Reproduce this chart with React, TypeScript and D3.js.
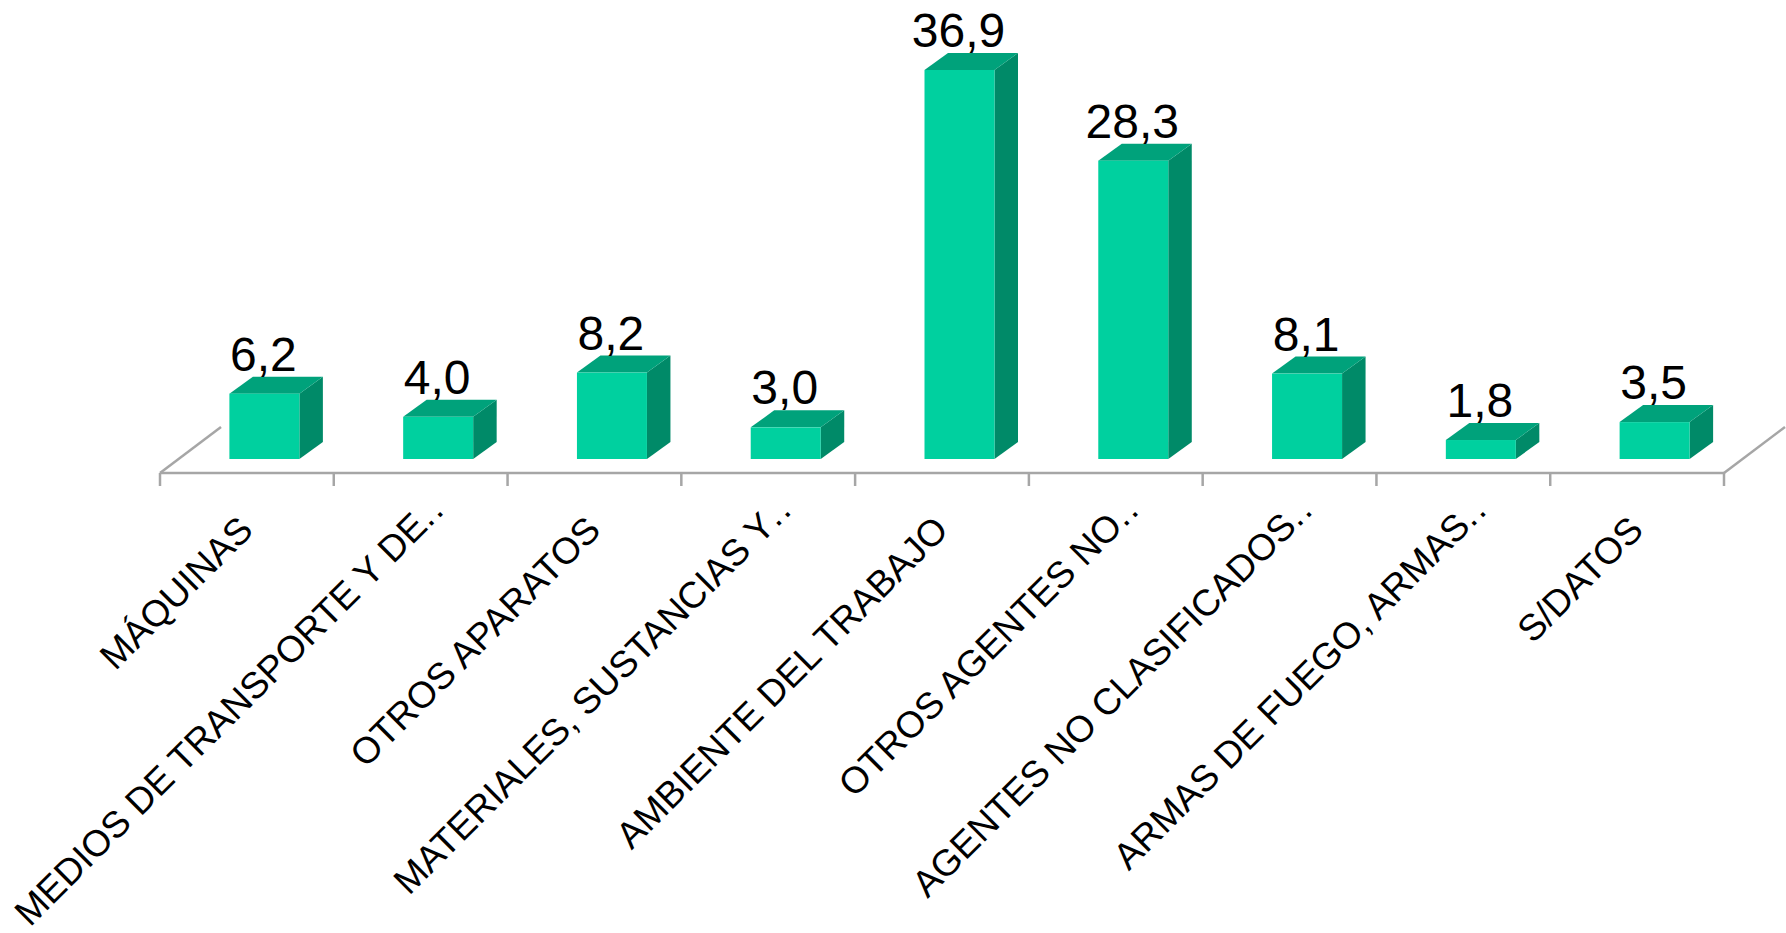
import React from "react";
import * as d3 from "d3";

const categories = [
  "MÁQUINAS",
  "MEDIOS DE TRANSPORTE Y DE..",
  "OTROS APARATOS",
  "MATERIALES, SUSTANCIAS Y..",
  "AMBIENTE DEL TRABAJO",
  "OTROS AGENTES NO..",
  "AGENTES NO CLASIFICADOS..",
  "ARMAS DE FUEGO, ARMAS..",
  "S/DATOS",
];
const values = [6.2, 4.0, 8.2, 3.0, 36.9, 28.3, 8.1, 1.8, 3.5];
const valueLabels = ["6,2", "4,0", "8,2", "3,0", "36,9", "28,3", "8,1", "1,8", "3,5"];

const W = 1786, H = 933;
const floorY = 473, baseY = 459, left = 160, right = 1724;
const FONT = "'Liberation Sans', Arial, sans-serif";

export default function App() {
  const x = d3.scaleBand<string>().domain(categories).range([left, right]);
  const y = d3.scaleLinear().domain([0, 36.9]).range([baseY, 70]);
  const barW = 70, dx = 23.5, dy = 17, offset = 17.5;
  const floorDx = 61, floorDy = 46;
  const ticks = d3.range(categories.length + 1).map((i) => left + i * x.step());
  const poly = (p: number[][]) => d3.line()(p as [number, number][]) + "Z";
  return (
    <svg width={W} height={H} style={{ position: "fixed", left: 0, top: 0, background: "#fff" }}>
      <g stroke="#a6a6a6" strokeWidth={2.5} fill="none">
        <path d={`M${left},${floorY}L${left + floorDx},${floorY - floorDy}`} />
        <path d={`M${right},${floorY}L${right + floorDx},${floorY - floorDy}`} />
        <path d={`M${left},${floorY}H${right}`} />
        {ticks.map((t) => (
          <path key={t} d={`M${t},${floorY}V${floorY + 13}`} />
        ))}
      </g>
      {categories.map((c, i) => {
        const band = x(c)! + x.bandwidth() / 2;
        const cx = band + offset;
        const x0 = cx - barW / 2, x1 = cx + barW / 2;
        const top = y(values[i]);
        const truncated = c.endsWith("..");
        const lx = band + (truncated ? 26 : 8);
        const ly = truncated ? 511 : 532;
        return (
          <g key={c}>
            <path d={poly([[x1, top], [x1 + dx, top - dy], [x1 + dx, baseY - dy], [x1, baseY]])} fill="#008a68" />
            <path d={poly([[x0, top], [x0 + dx, top - dy], [x1 + dx, top - dy], [x1, top]])} fill="#00a27b" />
            <rect x={x0} y={top} width={barW} height={baseY - top} fill="#00d09f" />
            <text x={cx - 1} y={top - dy - 6} textAnchor="middle" fontFamily={FONT} fontSize={48} fill="#000">
              {valueLabels[i]}
            </text>
            <text
              transform={`translate(${lx},${ly}) rotate(-45)`}
              textAnchor="end"
              fontFamily={FONT}
              fontSize={37}
              fill="#000"
            >
              {truncated ? (
                <>
                  {c.slice(0, -2)}
                  <tspan letterSpacing={2}>..</tspan>
                </>
              ) : (
                c
              )}
            </text>
          </g>
        );
      })}
    </svg>
  );
}
